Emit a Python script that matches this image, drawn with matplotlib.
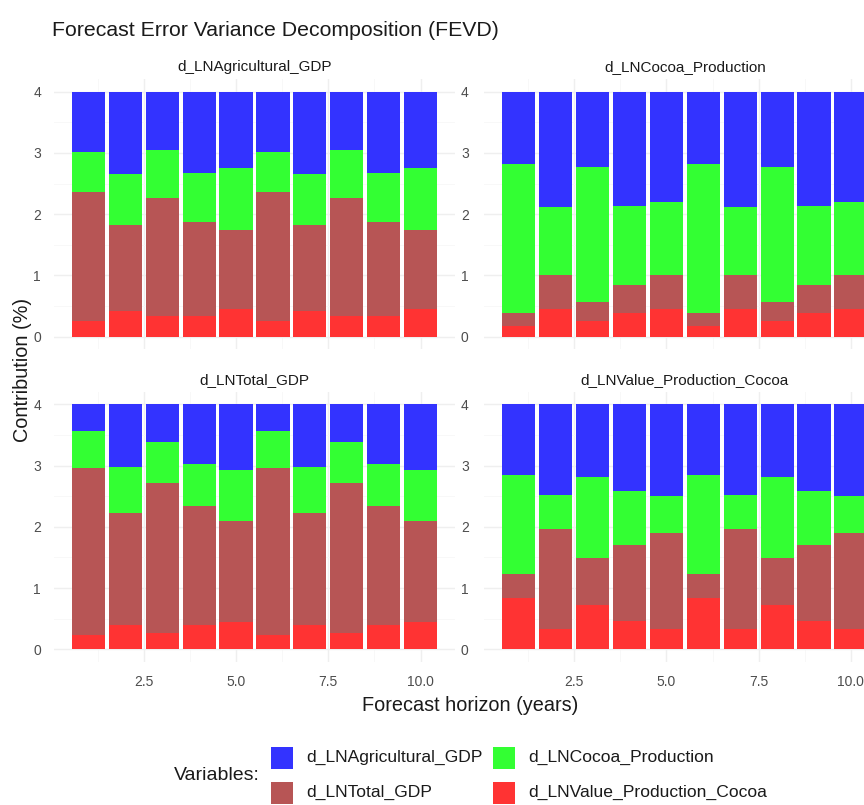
import matplotlib
matplotlib.use("Agg")
import matplotlib.pyplot as plt
from matplotlib.patches import Rectangle
import numpy as np

plt.rcParams['font.family'] = ['Liberation Sans', 'DejaVu Sans']

horizon = [1, 2, 3, 4, 5, 6, 7, 8, 9, 10]
variables = ["d_LNAgricultural_GDP", "d_LNCocoa_Production",
             "d_LNTotal_GDP", "d_LNValue_Production_Cocoa"]
colors = {"d_LNAgricultural_GDP": "#3333FF", "d_LNCocoa_Production": "#33FF33",
          "d_LNTotal_GDP": "#B75555", "d_LNValue_Production_Cocoa": "#FF3333"}
panels = ["d_LNAgricultural_GDP", "d_LNCocoa_Production",
          "d_LNTotal_GDP", "d_LNValue_Production_Cocoa"]

# panel 1: d_LNAgricultural_GDP
p1_value = [0.26, 0.42, 0.34, 0.34, 0.45, 0.26, 0.42, 0.34, 0.34, 0.45]
p1_total = [2.11, 1.40, 1.92, 1.53, 1.30, 2.11, 1.40, 1.92, 1.53, 1.30]
p1_cocoa = [0.64, 0.84, 0.78, 0.81, 1.01, 0.64, 0.84, 0.78, 0.81, 1.01]
p1_agri = [0.99, 1.34, 0.96, 1.32, 1.24, 0.99, 1.34, 0.96, 1.32, 1.24]
# panel 2: d_LNCocoa_Production
p2_value = [0.18, 0.45, 0.26, 0.39, 0.45, 0.18, 0.45, 0.26, 0.39, 0.45]
p2_total = [0.20, 0.55, 0.31, 0.46, 0.55, 0.20, 0.55, 0.31, 0.46, 0.55]
p2_cocoa = [2.44, 1.11, 2.20, 1.29, 1.20, 2.44, 1.11, 2.20, 1.29, 1.20]
p2_agri = [1.18, 1.89, 1.23, 1.86, 1.80, 1.18, 1.89, 1.23, 1.86, 1.80]
# panel 3: d_LNTotal_GDP
p3_value = [0.24, 0.39, 0.26, 0.39, 0.45, 0.24, 0.39, 0.26, 0.39, 0.45]
p3_total = [2.72, 1.84, 2.46, 1.95, 1.64, 2.72, 1.84, 2.46, 1.95, 1.64]
p3_cocoa = [0.61, 0.74, 0.67, 0.68, 0.84, 0.61, 0.74, 0.67, 0.68, 0.84]
p3_agri = [0.43, 1.03, 0.61, 0.98, 1.07, 0.43, 1.03, 0.61, 0.98, 1.07]
# panel 4: d_LNValue_Production_Cocoa
p4_value = [0.84, 0.33, 0.72, 0.46, 0.33, 0.84, 0.33, 0.72, 0.46, 0.33]
p4_total = [0.39, 1.64, 0.77, 1.24, 1.57, 0.39, 1.64, 0.77, 1.24, 1.57]
p4_cocoa = [1.62, 0.55, 1.32, 0.89, 0.61, 1.62, 0.55, 1.32, 0.89, 0.61]
p4_agri = [1.15, 1.48, 1.19, 1.41, 1.49, 1.15, 1.48, 1.19, 1.41, 1.49]

panel_data = [
    [p1_value, p1_total, p1_cocoa, p1_agri],
    [p2_value, p2_total, p2_cocoa, p2_agri],
    [p3_value, p3_total, p3_cocoa, p3_agri],
    [p4_value, p4_total, p4_cocoa, p4_agri],
]
stack_vars = ["d_LNValue_Production_Cocoa", "d_LNTotal_GDP",
              "d_LNCocoa_Production", "d_LNAgricultural_GDP"]

W, H = 864, 805
fig = plt.figure(figsize=(W / 100, H / 100), dpi=100)
fig.patch.set_facecolor("white")

def fx(px):
    return px / W

def fy(py):
    return 1 - py / H

col_x = [53.6, 484.0]
ax_w = 401.8
row_top = [79.4, 392.0]
ax_h = 269.6

for i, name in enumerate(panels):
    r, c = divmod(i, 2)
    ax = fig.add_axes([fx(col_x[c]), fy(row_top[r] + ax_h), fx(ax_w), ax_h / H])
    ax.set_xlim(0.055, 10.945)
    ax.set_ylim(-0.2, 4.2)
    ax.set_axisbelow(True)
    for s in ax.spines.values():
        s.set_visible(False)
    ax.set_xticks([2.5, 5.0, 7.5, 10.0])
    ax.set_xticks([1.25, 3.75, 6.25, 8.75], minor=True)
    ax.set_yticks([0, 1, 2, 3, 4])
    ax.set_yticks([0.5, 1.5, 2.5, 3.5], minor=True)
    ax.grid(which="major", color="#EFEFEF", linewidth=1.0)
    ax.grid(which="minor", color="#F7F7F7", linewidth=0.6)
    ax.tick_params(which="both", length=0, colors="#4D4D4D", labelsize=10)
    ax.tick_params(axis="y", pad=9 if c == 0 else 11)
    ax.tick_params(axis="x", pad=10)
    ax.set_yticklabels(["0", "1", "2", "3", "4"])
    if r == 0:
        ax.set_xticklabels([])
    else:
        ax.set_xticklabels(["2.5", "5.0", "7.5", "10.0"])
    bottom = np.zeros(len(horizon))
    for var, vals in zip(stack_vars, panel_data[i]):
        ax.bar(horizon, vals, width=0.9, bottom=bottom, color=colors[var],
               linewidth=0)
        bottom = bottom + np.array(vals)
    ax.set_title(name, fontsize=11, color="#1A1A1A", pad=6)

fig.text(fx(52), fy(30), "Forecast Error Variance Decomposition (FEVD)",
         fontsize=15.3, color="#1A1A1A", ha="left", va="center")
fig.text(fx(470), fy(705), "Forecast horizon (years)", fontsize=14.3,
         color="#1A1A1A", ha="center", va="center")
fig.text(fx(23), fy(370), "Contribution (%)", fontsize=14.3, color="#1A1A1A",
         rotation=90, ha="center", va="center")

# legend
fig.text(fx(260), fy(775), "Variables:", fontsize=14, color="#1A1A1A",
         ha="right", va="center")
legend_order = ["d_LNAgricultural_GDP", "d_LNCocoa_Production",
                "d_LNTotal_GDP", "d_LNValue_Production_Cocoa"]
key_x = [271, 493]
key_y = [757.5, 792.5]
for k, var in enumerate(legend_order):
    rr, cc = divmod(k, 2)
    x0 = key_x[cc]
    yc = key_y[rr]
    fig.patches.append(Rectangle((fx(x0), fy(yc + 11)), fx(22), 22 / H,
                                 transform=fig.transFigure, facecolor=colors[var],
                                 edgecolor="none"))
    fig.text(fx(x0 + 35), fy(yc), var, fontsize=12.6, color="#1A1A1A",
             ha="left", va="center")

fig.savefig("out.png", dpi=100, facecolor="white")
